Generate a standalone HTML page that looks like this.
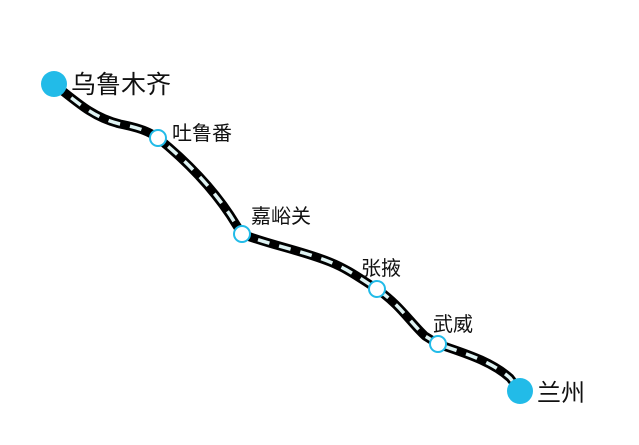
<!DOCTYPE html>
<html><head><meta charset="utf-8"><style>
html,body{margin:0;padding:0;background:#fff;}
svg{display:block;}
text{font-family:"Liberation Sans","Noto Sans CJK SC",sans-serif;fill:#111;}
</style></head><body>
<svg width="639" height="445" viewBox="0 0 639 445">
<path d="M54,84 C80,105 95,118 120,124 C140,128 150,132 158,138 C185,160 210,185 230,215 L242,234 C270,245 300,250 330,262 C350,270 365,282 377,289 C400,305 410,322 425,336 L438,344 C460,352 490,360 510,378 L520,391" fill="none" stroke="#000" stroke-width="9" stroke-linejoin="round"/>
<path d="M54,84 C80,105 95,118 120,124 C140,128 150,132 158,138 C185,160 210,185 230,215 L242,234 C270,245 300,250 330,262 C350,270 365,282 377,289 C400,305 410,322 425,336 L438,344 C460,352 490,360 510,378 L520,391" fill="none" stroke="#dff3f3" stroke-width="3.5" stroke-dasharray="12,10"/>
<circle cx="54" cy="84" r="13" fill="#22bbe8"/>
<circle cx="520" cy="391" r="13" fill="#22bbe8"/>
<g fill="#fff" stroke="#22bbe8" stroke-width="2">
<circle cx="158" cy="138" r="8"/>
<circle cx="242" cy="234" r="8"/>
<circle cx="377" cy="289" r="8"/>
<circle cx="438" cy="344" r="8"/>
</g>
<text x="71" y="93" font-size="25">乌鲁木齐</text>
<text x="172" y="140" font-size="20">吐鲁番</text>
<text x="251" y="223" font-size="20">嘉峪关</text>
<text x="361" y="275" font-size="20">张掖</text>
<text x="433" y="331" font-size="20">武威</text>
<text x="537" y="401" font-size="24">兰州</text>
</svg>
</body></html>
